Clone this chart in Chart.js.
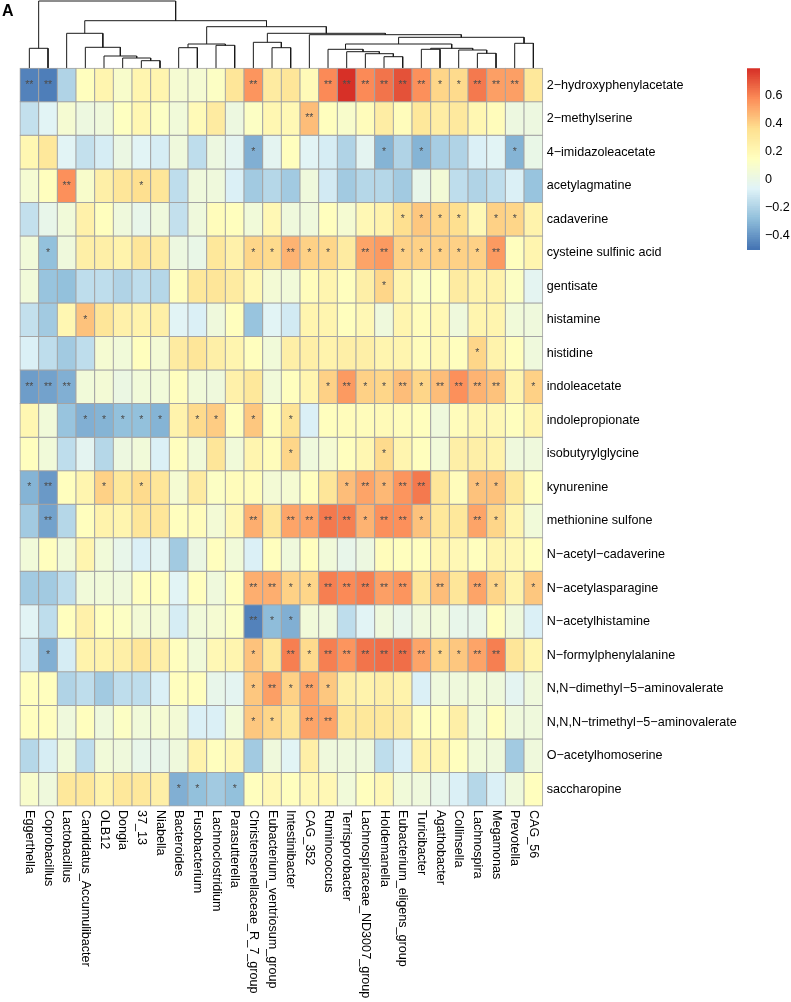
<!DOCTYPE html>
<html>
<head>
<meta charset="utf-8">
<script src="https://cdn.jsdelivr.net/npm/chart.js@4.4.1/dist/chart.umd.min.js"></script>
<style>
  html, body { margin: 0; padding: 0; background: #ffffff; overflow: hidden; }
  #wrap { position: relative; width: 791px; height: 1002px; overflow: hidden; }
  #main { position: absolute; left: 0; top: 0; }
  #leg { position: absolute; left: 740px; top: 50px; }
  #tag { position: absolute; left: 2px; top: 3px; font: bold 16px/16px "Liberation Sans", Arial, sans-serif; color: #000; }
</style>
</head>
<body>
<div id="wrap">
  <canvas id="main" width="791" height="1002"></canvas>
  <canvas id="leg" width="60" height="220"></canvas>
  <div id="tag">A</div>
</div>
<script>
// ---------------- data ----------------
const columns = ["Eggerthella","Coprobacillus","Lactobacillus","Candidatus_Accumulibacter","OLB12","Dongia","37_13","Niabella","Bacteroides","Fusobacterium","Lachnoclostridium","Parasutterella","Christensenellaceae_R_7_group","Eubacterium_ventriosum_group","Intestinibacter","CAG_352","Ruminococcus","Terrisporobacter","Lachnospiraceae_ND3007_group","Holdemanella","Eubacterium_eligens_group","Turicibacter","Agathobacter","Collinsella","Lachnospira","Megamonas","Prevotella","CAG_56"];

const rowLabels = ["2\u2212hydroxyphenylacetate","2\u2212methylserine","4\u2212imidazoleacetate","acetylagmatine","cadaverine","cysteine sulfinic acid","gentisate","histamine","histidine","indoleacetate","indolepropionate","isobutyrylglycine","kynurenine","methionine sulfone","N\u2212acetyl\u2212cadaverine","N\u2212acetylasparagine","N\u2212acetylhistamine","N\u2212formylphenylalanine","N,N\u2212dimethyl\u22125\u2212aminovalerate","N,N,N\u2212trimethyl\u22125\u2212aminovalerate","O\u2212acetylhomoserine","saccharopine"];

// correlation values, one array per metabolite (column order as above)
const hydroxyphenylacetate2 = [-0.45,-0.47,-0.20,0.15,0.22,0.10,0.22,0.22,0.08,0.07,0.12,0.32,0.55,0.28,0.32,0.18,0.58,0.78,0.58,0.63,0.70,0.57,0.38,0.37,0.62,0.53,0.53,0.31];
const methylserine2 = [-0.15,-0.06,0.08,0.02,0.04,0.14,0.20,0.12,0.05,0.18,0.28,0.02,0.12,0.20,0.19,0.45,0.15,0.10,0.17,0.27,0.16,0.30,0.27,0.29,0.20,0.16,0.02,0.02];
const imidazoleacetate4 = [0.20,0.30,-0.06,-0.15,-0.10,0.01,-0.06,-0.10,0.03,-0.16,0.02,-0.04,-0.33,-0.04,0.15,-0.06,-0.10,-0.20,-0.04,-0.31,-0.20,-0.31,-0.22,-0.20,-0.08,-0.06,-0.31,0.00];
const acetylagmatine = [0.07,0.15,0.56,0.10,0.25,0.32,0.36,0.32,-0.16,0.03,0.03,-0.08,-0.24,-0.19,-0.24,0.03,-0.11,-0.24,-0.19,-0.18,-0.24,-0.02,0.06,-0.16,-0.20,-0.16,-0.08,-0.26];
const cadaverine = [-0.15,-0.02,0.05,0.24,0.15,0.03,-0.02,0.03,-0.15,0.03,0.17,0.15,0.05,0.19,0.03,0.03,0.15,0.08,0.19,0.23,0.36,0.42,0.38,0.36,0.19,0.40,0.38,0.23];
const cysteineSulfinicAcid = [0.05,-0.28,0.03,0.25,0.25,0.23,0.32,0.28,0.02,0.00,0.30,0.24,0.38,0.37,0.48,0.40,0.38,0.28,0.51,0.54,0.40,0.40,0.40,0.40,0.40,0.54,0.15,0.22];
const gentisate = [0.05,-0.26,-0.28,-0.16,-0.16,-0.20,-0.16,-0.18,0.15,0.30,0.32,0.28,0.19,0.06,0.05,0.16,0.21,0.15,0.25,0.38,0.22,0.13,0.14,0.28,0.23,0.23,0.13,-0.04];
const histamine = [-0.15,-0.24,0.20,0.43,0.32,0.24,0.23,0.25,-0.06,-0.08,0.03,0.15,-0.26,-0.06,-0.11,0.21,0.21,0.15,0.19,0.03,0.21,0.17,0.19,0.03,0.21,0.22,0.05,0.03];
const histidine = [-0.08,-0.16,-0.24,-0.16,0.08,0.05,0.15,0.06,0.28,0.32,0.25,0.21,0.15,0.05,0.25,0.25,0.23,0.25,0.26,0.22,0.21,0.16,0.19,0.15,0.38,0.23,0.15,0.03];
const indoleacetate = [-0.38,-0.36,-0.33,0.05,0.06,0.01,0.05,0.05,0.15,0.05,0.03,0.24,0.30,0.05,0.15,0.21,0.40,0.54,0.40,0.38,0.45,0.38,0.45,0.56,0.48,0.43,0.21,0.40];
const indolepropionate = [0.20,0.05,-0.26,-0.33,-0.31,-0.28,-0.28,-0.31,0.23,0.37,0.41,0.15,0.42,0.15,0.33,-0.08,0.15,0.16,0.17,0.18,0.17,0.15,0.03,0.17,0.20,0.19,0.15,0.22];
const isobutyrylglycine = [0.15,0.05,-0.16,-0.04,-0.18,0.02,0.05,-0.08,0.15,0.05,0.32,0.05,0.21,0.17,0.38,0.03,0.08,0.15,0.20,0.37,0.21,0.15,0.05,0.25,0.25,0.23,0.03,0.03];
const kynurenine = [-0.31,-0.39,0.15,0.21,0.40,0.30,0.37,0.32,0.08,0.28,0.13,0.17,0.16,0.06,0.08,0.15,0.32,0.45,0.51,0.46,0.55,0.62,0.32,0.17,0.43,0.43,0.30,0.15];
const methionineSulfone = [-0.24,-0.36,-0.18,0.15,0.23,0.21,0.32,0.32,0.15,0.17,0.06,0.19,0.49,0.32,0.51,0.51,0.62,0.60,0.47,0.56,0.56,0.43,0.30,0.30,0.51,0.38,0.21,0.05];
const nAcetylCadaverine = [0.05,0.15,0.05,0.22,0.05,-0.02,-0.08,-0.04,-0.24,0.01,0.15,0.05,-0.08,0.15,0.03,0.15,0.05,-0.02,0.02,0.17,0.15,0.15,0.21,0.19,0.15,0.21,0.19,0.15];
const nAcetylasparagine = [-0.24,-0.24,-0.16,0.05,0.05,0.03,0.15,0.15,-0.06,0.15,0.03,0.15,0.49,0.49,0.40,0.38,0.60,0.58,0.60,0.52,0.55,0.32,0.45,0.32,0.51,0.38,0.23,0.42];
const nAcetylhistamine = [-0.06,-0.16,0.15,0.24,0.15,0.12,0.06,0.06,-0.10,0.05,0.08,0.12,-0.46,-0.29,-0.33,0.05,0.03,-0.16,-0.06,0.03,-0.02,0.03,0.05,-0.02,-0.02,0.15,0.03,-0.08];
const nFormylphenylalanine = [-0.11,-0.33,-0.10,0.23,0.23,0.25,0.32,0.26,0.15,0.05,0.19,0.21,0.43,0.30,0.60,0.37,0.60,0.55,0.63,0.64,0.64,0.51,0.38,0.42,0.51,0.60,0.32,0.21];
const nnDimethyl5Aminovalerate = [0.15,0.15,-0.20,-0.16,-0.24,-0.16,-0.16,-0.08,0.15,0.15,-0.02,-0.04,0.42,0.52,0.40,0.51,0.42,0.26,0.23,0.25,0.23,-0.08,0.03,0.03,0.05,0.03,-0.04,0.03];
const nnnTrimethyl5Aminovalerate = [0.15,0.15,0.03,0.15,0.03,0.12,0.05,0.08,0.06,-0.08,-0.08,0.05,0.42,0.38,0.32,0.51,0.51,0.30,0.30,0.30,0.28,0.15,0.15,0.25,0.05,0.15,0.03,0.03];
const oAcetylhomoserine = [-0.19,-0.10,0.05,-0.16,0.05,0.03,-0.02,-0.02,0.03,0.23,0.15,0.19,-0.24,0.03,-0.06,0.26,0.03,0.03,0.03,-0.16,-0.08,0.23,0.21,0.15,0.05,0.03,-0.24,0.03];
const saccharopine = [0.10,0.03,0.30,0.30,0.23,0.30,0.30,0.25,-0.33,-0.28,-0.24,-0.28,0.15,0.19,0.15,0.19,0.19,0.05,0.15,0.19,0.05,0.03,-0.02,-0.08,-0.19,-0.08,0.03,0.15];

const values = [hydroxyphenylacetate2, methylserine2, imidazoleacetate4, acetylagmatine, cadaverine, cysteineSulfinicAcid, gentisate, histamine, histidine, indoleacetate, indolepropionate, isobutyrylglycine, kynurenine, methionineSulfone, nAcetylCadaverine, nAcetylasparagine, nAcetylhistamine, nFormylphenylalanine, nnDimethyl5Aminovalerate, nnnTrimethyl5Aminovalerate, oAcetylhomoserine, saccharopine];

// significance per cell: 0 none, 1 "*", 2 "**"
const significance = [
  "2200000000002000222222112220",
  "0000000000000002000000000000",
  "0000000000001000000101000010",
  "0020001000000000000000000000",
  "0000000000000000000011110110",
  "0100000000001121102211111200",
  "0000000000000000000100000000",
  "0001000000000000000000000000",
  "0000000000000000000000001000",
  "2220000000000000121121222201",
  "0001111101101010000000000000",
  "0000000000000010000100000000",
  "1200101000000000012122001100",
  "0200000000002022221221002100",
  "0000000000000000000000000000",
  "0000000000002211222220202101",
  "0000000000002110000000000000",
  "0100000000001021222222112200",
  "0000000000001212100000000000",
  "0000000000001102200000000000",
  "0000000000000000000000000000",
  "0000000011010000000000000000"
];

// column dendrogram (hclust style: negative = leaf index+1, positive = earlier merge number)
const colMerges = [[-7,-8],[-6,1],[-20,-21],[-5,2],[-19,3],[-25,-26],[-18,5],[-24,6],[-17,7],[-22,-23],[10,8],[-1,-2],[-9,-10],[-14,-15],[-4,4],[-11,-12],[9,11],[13,16],[-27,-28],[-13,14],[17,19],[-16,21],[-3,15],[20,22],[18,24],[23,25],[12,26]];
const colMergeHeights = [7.6,10.3,11.6,12.3,14.6,15,16.6,18.3,19,19,20,20,20.6,20.6,21,23,24.3,24.3,25,26,31,33.6,35,35,41.6,47.6,67.3];

const legendTicks = [-0.4, -0.2, 0, 0.2, 0.4, 0.6];
const colorMin = -0.5, colorMax = 0.79;

// ---------------- colours ----------------
const palette = ["#4575B4","#91BFDB","#E0F3F8","#FFFFBF","#FEE090","#FC8D59","#D73027"];
const nColors = 100;
function hexToRgb(h){ return [parseInt(h.slice(1,3),16),parseInt(h.slice(3,5),16),parseInt(h.slice(5,7),16)]; }
const palRgb = palette.map(hexToRgb);
function rampColor(t){
  const p = t*(palRgb.length-1);
  const i = Math.min(palRgb.length-2, Math.floor(p));
  const f = p - i;
  const c = palRgb[i].map((v,k)=>Math.round(v + (palRgb[i+1][k]-v)*f));
  return `rgb(${c[0]},${c[1]},${c[2]})`;
}
const ramp = Array.from({length:nColors}, (_,k)=>rampColor(k/(nColors-1)));
function valueColor(v){
  let k = Math.floor((v-colorMin)/(colorMax-colorMin)*nColors);
  k = Math.max(0, Math.min(nColors-1, k));
  return ramp[k];
}

// ---------------- layout ----------------
const W = 791, H = 1002;
const plotLeft = 20, plotRight = 542.7, plotTop = 1, heatTop = 68.3, heatBottom = 806;
const nRows = rowLabels.length;
const rowPx = (heatBottom-heatTop)/nRows;
const yMin = -(heatTop-plotTop)/rowPx;
const dendroMax = colMergeHeights[colMergeHeights.length-1];
const dendroPerPx = dendroMax/(heatTop-plotTop);
const ydMin = -(heatBottom-heatTop)*dendroPerPx;

const FONT = "'Liberation Sans', Arial, Helvetica, sans-serif";
const LABEL_SIZE = 12.6;
Chart.defaults.font.family = FONT;
Chart.defaults.color = '#000';

// dendrogram segments
function dendroSegments(){
  const pos = [];
  const child = id => id < 0 ? [-id-1, 0] : [pos[id-1], colMergeHeights[id-1]];
  return colMerges.map(([a,b], i) => {
    const [xa, ha] = child(a), [xb, hb] = child(b);
    const h = colMergeHeights[i];
    pos[i] = (xa+xb)/2;
    return [{x:xa,y:ha},{x:xa,y:h},{x:xb,y:h},{x:xb,y:hb}];
  });
}

const heatDatasets = rowLabels.map((name, r) => ({
  type: 'bar',
  label: name,
  data: columns.map(() => 1),
  backgroundColor: values[r].map(valueColor),
  borderColor: '#a4a4a4',
  borderWidth: 1,
  borderSkipped: false,
  inflateAmount: 0.5,
  barPercentage: 1,
  categoryPercentage: 1,
  grouped: false,
  xAxisID: 'x', yAxisID: 'y',
  stack: 'heat',
  clip: false
}));

const dendroDatasets = dendroSegments().map((pts, i) => ({
  type: 'line',
  label: 'merge' + (i+1),
  data: pts,
  xAxisID: 'xd', yAxisID: 'yd',
  borderColor: '#1a1a1a',
  borderWidth: 1,
  pointRadius: 0,
  tension: 0,
  fill: false,
  clip: false
}));

const starPlugin = {
  id: 'stars',
  afterDatasetsDraw(chart){
    const ctx = chart.ctx;
    ctx.save();
    ctx.fillStyle = '#4d4d4d';
    ctx.font = `10.5px ${FONT}`;
    ctx.textAlign = 'center';
    ctx.textBaseline = 'middle';
    for (let r = 0; r < nRows; r++){
      const meta = chart.getDatasetMeta(r);
      for (let c = 0; c < columns.length; c++){
        const s = +significance[r][c];
        if (!s) continue;
        const p = meta.data[c].getCenterPoint();
        ctx.fillText('*'.repeat(s), p.x, p.y);
      }
    }
    ctx.restore();
  }
};

const colLabelPlugin = {
  id: 'colLabels',
  afterDraw(chart){
    const ctx = chart.ctx, xs = chart.scales.x;
    ctx.save();
    ctx.fillStyle = '#000';
    ctx.font = `${LABEL_SIZE}px ${FONT}`;
    ctx.textAlign = 'left';
    ctx.textBaseline = 'middle';
    columns.forEach((name, i) => {
      const x = xs.getPixelForValue(i);
      ctx.save();
      ctx.translate(x, heatBottom + 4);
      ctx.rotate(Math.PI/2);
      ctx.fillText(name, 0, 0);
      ctx.restore();
    });
    ctx.restore();
  }
};

new Chart(document.getElementById('main'), {
  type: 'bar',
  data: { labels: columns, datasets: [...heatDatasets, ...dendroDatasets] },
  options: {
    responsive: false,
    animation: false,
    events: [],
    layout: { padding: { left: plotLeft, right: 0, top: plotTop, bottom: H - heatBottom } },
    plugins: { legend: { display: false }, tooltip: { enabled: false } },
    scales: {
      x: { type: 'category', display: false, stacked: true, offset: true },
      y: {
        type: 'linear', position: 'right', reverse: true, stacked: true,
        min: yMin, max: nRows,
        afterBuildTicks: s => { s.ticks = rowLabels.map((_, r) => ({ value: r + 0.5 })); },
        afterFit: s => { s.width = W - plotRight; s.paddingTop = 0; s.paddingBottom = 0; },
        grid: { display: false, drawTicks: false }, border: { display: false },
        ticks: { autoSkip: false, padding: 4, font: { size: LABEL_SIZE }, color: '#000',
                 callback: v => rowLabels[Math.floor(v)] }
      },
      xd: { type: 'linear', display: false, offset: false, grid: { offset: false },
            min: -0.5, max: columns.length - 0.5 },
      yd: { type: 'linear', display: false, beginAtZero: false, min: ydMin, max: dendroMax }
    }
  },
  plugins: [starPlugin, colLabelPlugin]
});

// ---------------- colour key ----------------
const step = (colorMax - colorMin) / nColors;
new Chart(document.getElementById('leg'), {
  type: 'bar',
  data: {
    labels: ['key'],
    datasets: ramp.map((c, k) => ({
      data: [[colorMin + k*step, colorMin + (k+1)*step]],
      backgroundColor: c, borderWidth: 0, grouped: false,
      barPercentage: 1, categoryPercentage: 1, inflateAmount: 0.4
    }))
  },
  options: {
    responsive: false, animation: false, events: [],
    layout: { padding: { left: 7, right: 0, top: heatTop - 50, bottom: 20 } },
    plugins: { legend: { display: false }, tooltip: { enabled: false } },
    scales: {
      x: { display: false },
      y: {
        type: 'linear', position: 'right', min: colorMin, max: colorMax,
        afterBuildTicks: s => { s.ticks = legendTicks.map(v => ({ value: v })); },
        afterFit: s => { s.width = 40; s.paddingTop = 0; s.paddingBottom = 0; },
        grid: { display: false, drawTicks: false }, border: { display: false },
        ticks: { padding: 5, font: { size: LABEL_SIZE }, color: '#000',
                 callback: v => String(v).replace('-', '\u2212') }
      }
    }
  }
});
</script>
</body>
</html>
